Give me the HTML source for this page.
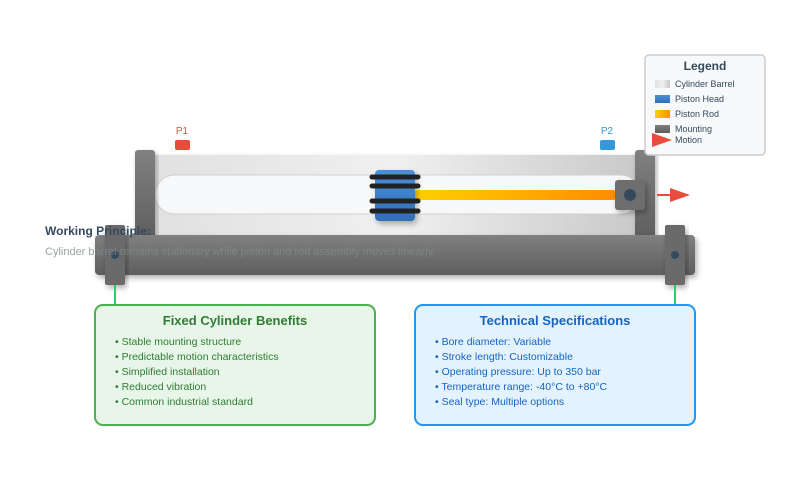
<!DOCTYPE html>
<html><head><meta charset="utf-8"><style>
html,body{margin:0;padding:0;background:#fff;}
svg{display:block;font-family:"Liberation Sans",Arial,sans-serif;}
</style></head><body>
<svg width="790" height="490" viewBox="0 0 790 490" xmlns="http://www.w3.org/2000/svg">
<defs>
<linearGradient id="barrel" x1="0" y1="0" x2="1" y2="0">
<stop offset="0" stop-color="#e0e0e0"/><stop offset="0.5" stop-color="#f0f0f0"/><stop offset="1" stop-color="#c8c8c8"/></linearGradient>
<linearGradient id="dark" x1="0" y1="0" x2="0" y2="1">
<stop offset="0" stop-color="#808080"/><stop offset="1" stop-color="#5e5e5e"/></linearGradient>
<linearGradient id="rod" x1="0" y1="0" x2="1" y2="0">
<stop offset="0" stop-color="#ffd000"/><stop offset="1" stop-color="#ff8c00"/></linearGradient>
<linearGradient id="blue" x1="0" y1="0" x2="0" y2="1">
<stop offset="0" stop-color="#4a90d9"/><stop offset="1" stop-color="#2f6fb5"/></linearGradient>
<filter id="sh" x="-20%" y="-20%" width="140%" height="160%"><feDropShadow dx="2" dy="3" stdDeviation="3" flood-opacity="0.3"/></filter>
</defs>

<!-- P1 / P2 -->
<text x="182" y="134" font-size="10" fill="#e74c3c" text-anchor="middle">P1</text>
<rect x="175" y="140" width="15" height="10" rx="2" fill="#e74c3c"/>
<text x="607" y="134" font-size="10" fill="#3498db" text-anchor="middle">P2</text>
<rect x="600" y="140" width="15" height="10" rx="2" fill="#3498db"/>

<!-- barrel -->
<rect x="145" y="155" width="500" height="80" fill="url(#barrel)" filter="url(#sh)"/>
<rect x="155" y="175" width="485" height="39" rx="19.5" fill="#f6f8fa" stroke="#d0d0d0" stroke-width="1"/>
<rect x="135" y="150" width="20" height="90" rx="3" fill="url(#dark)" filter="url(#sh)"/>
<rect x="635" y="150" width="20" height="90" rx="3" fill="url(#dark)" filter="url(#sh)"/>

<!-- rod -->
<rect x="413" y="190" width="205" height="10" rx="5" fill="url(#rod)"/>
<!-- piston -->
<rect x="375" y="170" width="40" height="51" rx="4" fill="url(#blue)" filter="url(#sh)"/>
<g stroke="#222" stroke-width="5" stroke-linecap="round">
<line x1="372" y1="177" x2="418" y2="177"/>
<line x1="372" y1="186" x2="418" y2="186"/>
<line x1="372" y1="201" x2="418" y2="201"/>
<line x1="372" y1="211" x2="418" y2="211"/>
</g>
<!-- rod end -->
<rect x="615" y="180" width="30" height="30" rx="3" fill="#6e6e6e" filter="url(#sh)"/>
<circle cx="630" cy="195" r="6" fill="#34495e"/>
<!-- motion arrow -->
<line x1="657" y1="195" x2="672" y2="195" stroke="#e74c3c" stroke-width="2"/>
<polygon points="670,188 690,195 670,202" fill="#e74c3c"/>

<!-- base -->
<rect x="95" y="235" width="600" height="40" rx="4" fill="url(#dark)" filter="url(#sh)"/>
<rect x="105" y="225" width="20" height="60" rx="2" fill="#6a6a6a" filter="url(#sh)"/>
<circle cx="115" cy="255" r="4" fill="#34495e"/>
<rect x="665" y="225" width="20" height="60" rx="2" fill="#6a6a6a" filter="url(#sh)"/>
<circle cx="675" cy="255" r="4" fill="#34495e"/>
<line x1="115" y1="285" x2="115" y2="305" stroke="#2ecc71" stroke-width="2"/>
<line x1="675" y1="285" x2="675" y2="305" stroke="#2ecc71" stroke-width="2"/>

<!-- working principle -->
<text x="45" y="235" font-size="12" font-weight="bold" fill="#34495e">Working Principle:</text>
<text x="45" y="255" font-size="11" fill="#7f8c8d" opacity="0.8">Cylinder barrel remains stationary while piston and rod assembly moves linearly</text>

<!-- boxes -->
<rect x="95" y="305" width="280" height="120" rx="8" fill="#e8f5e9" stroke="#4caf50" stroke-width="2"/>
<text x="235" y="325" font-size="13" font-weight="bold" fill="#2e7d32" text-anchor="middle">Fixed Cylinder Benefits</text>
<g font-size="10.5" fill="#2e7d32">
<text x="115" y="345">• Stable mounting structure</text>
<text x="115" y="360">• Predictable motion characteristics</text>
<text x="115" y="375">• Simplified installation</text>
<text x="115" y="390">• Reduced vibration</text>
<text x="115" y="405">• Common industrial standard</text>
</g>
<rect x="415" y="305" width="280" height="120" rx="8" fill="#e3f2fd" stroke="#2196f3" stroke-width="2"/>
<text x="555" y="325" font-size="13" font-weight="bold" fill="#1565c0" text-anchor="middle">Technical Specifications</text>
<g font-size="10.5" fill="#1565c0">
<text x="435" y="345">• Bore diameter: Variable</text>
<text x="435" y="360">• Stroke length: Customizable</text>
<text x="435" y="375">• Operating pressure: Up to 350 bar</text>
<text x="435" y="390">• Temperature range: -40°C to +80°C</text>
<text x="435" y="405">• Seal type: Multiple options</text>
</g>

<!-- legend -->
<rect x="645" y="55" width="120" height="100" rx="4" fill="#f8f9fa" stroke="#cccccc" stroke-width="1.5"/>
<text x="705" y="70" font-size="12" font-weight="bold" fill="#34495e" text-anchor="middle">Legend</text>
<rect x="655" y="80" width="15" height="8" fill="url(#barrel)"/>
<text x="675" y="87" font-size="9" fill="#34495e">Cylinder Barrel</text>
<rect x="655" y="95" width="15" height="8" fill="url(#blue)"/>
<text x="675" y="102" font-size="9" fill="#34495e">Piston Head</text>
<rect x="655" y="110" width="15" height="8" fill="url(#rod)"/>
<text x="675" y="117" font-size="9" fill="#34495e">Piston Rod</text>
<rect x="655" y="125" width="15" height="8" fill="url(#dark)"/>
<text x="675" y="132" font-size="9" fill="#34495e">Mounting</text>
<polygon points="652,133 672,140 652,147" fill="#e74c3c"/>
<text x="675" y="143" font-size="9" fill="#34495e">Motion</text>
</svg>
</body></html>
